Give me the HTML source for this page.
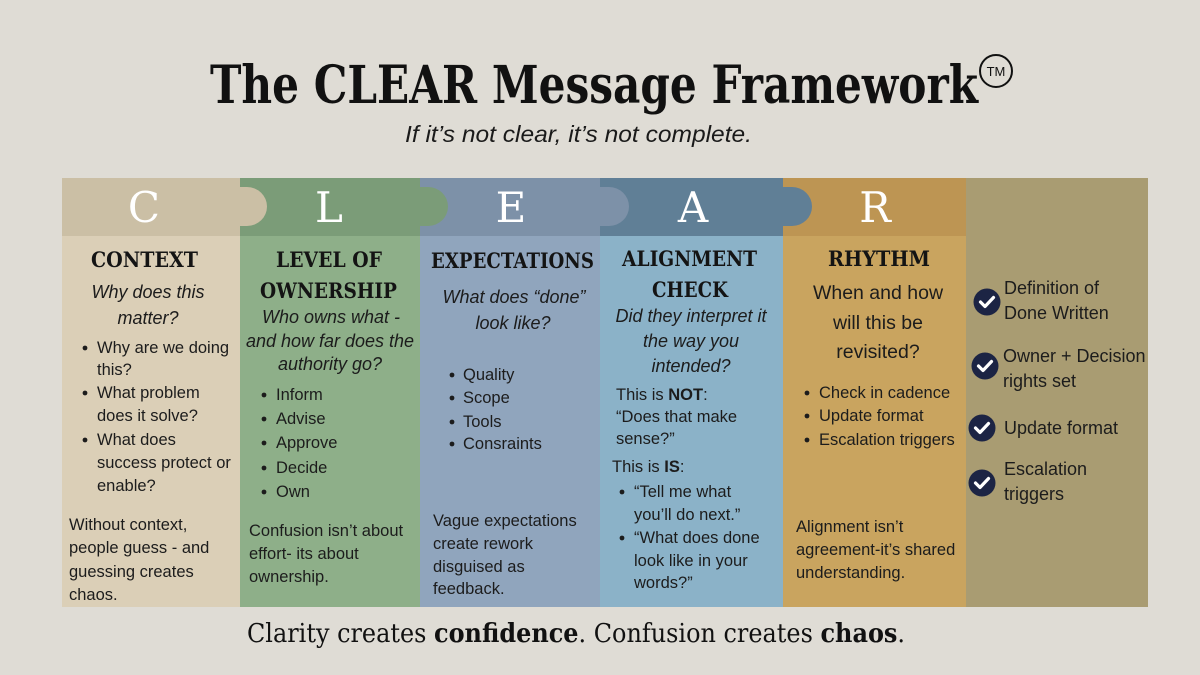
<!DOCTYPE html>
<html>
<head>
<meta charset="utf-8">
<style>
  html, body { margin:0; padding:0; background:#dfdcd5; }
  svg { display:block; }
  .b { font-family:"Liberation Sans", Arial, sans-serif; font-size:16.5px; fill:#1c1c1c; }
  .it { font-family:"Liberation Sans", Arial, sans-serif; font-style:italic; font-size:18px; fill:#1c1c1c; }
  .h { font-family:"DejaVu Serif", "Liberation Serif", serif; font-weight:bold; font-size:21px; fill:#141414; }
  .L { font-family:"DejaVu Serif", "Liberation Serif", serif; font-size:42px; fill:#ffffff; }
  .r { font-family:"Liberation Sans", Arial, sans-serif; font-size:18px; fill:#1c1c1c; }
  .rq { font-family:"Liberation Sans", Arial, sans-serif; font-size:19.5px; fill:#1c1c1c; }
</style>
</head>
<body>
<svg width="1200" height="675" viewBox="0 0 1200 675" xmlns="http://www.w3.org/2000/svg">
  <rect x="0" y="0" width="1200" height="675" fill="#dfdcd5"/>

  <!-- Title -->
  <text x="210" y="103" font-family="DejaVu Serif, Liberation Serif, serif" font-weight="bold" font-size="52" fill="#111" textLength="768" lengthAdjust="spacingAndGlyphs">The CLEAR Message Framework</text>
  <circle cx="996" cy="71" r="16" fill="none" stroke="#111" stroke-width="2"/>
  <text x="996" y="76" text-anchor="middle" font-family="Liberation Sans, sans-serif" font-size="13" fill="#111">TM</text>
  <text x="405" y="142" font-family="Liberation Sans, sans-serif" font-style="italic" font-size="23" fill="#1a1a1a" textLength="347" lengthAdjust="spacingAndGlyphs">If it’s not clear, it’s not complete.</text>

  <!-- Column bodies -->
  <rect x="62" y="178" width="178" height="429" fill="#dbcfb7"/>
  <rect x="240" y="178" width="180" height="429" fill="#8eaf89"/>
  <rect x="420" y="178" width="180" height="429" fill="#90a5bd"/>
  <rect x="600" y="178" width="183" height="429" fill="#8bb2c8"/>
  <rect x="783" y="178" width="183" height="429" fill="#c9a45f"/>
  <rect x="966" y="178" width="182" height="429" fill="#a99c72"/>

  <!-- Header bands -->
  <rect x="62" y="178" width="178" height="58" fill="#cbbfa5"/>
  <rect x="240" y="178" width="180" height="58" fill="#7b9c78"/>
  <rect x="420" y="178" width="180" height="58" fill="#7d91a8"/>
  <rect x="600" y="178" width="183" height="58" fill="#607f96"/>
  <rect x="783" y="178" width="183" height="58" fill="#bd9553"/>

  <!-- Bumps -->
  <path d="M240,187 H247 A20,19.5 0 0 1 247,226 H240 Z" fill="#cbbfa5"/>
  <path d="M420,187 H428 A20,19.5 0 0 1 428,226 H420 Z" fill="#7b9c78"/>
  <path d="M600,187 H609 A20,19.5 0 0 1 609,226 H600 Z" fill="#7d91a8"/>
  <path d="M783,187 H792 A20,19.5 0 0 1 792,226 H783 Z" fill="#607f96"/>

  <!-- Letters -->
  <text class="L" x="144" y="222" text-anchor="middle">C</text>
  <text class="L" x="329" y="222" text-anchor="middle">L</text>
  <text class="L" x="511" y="222" text-anchor="middle">E</text>
  <text class="L" x="693" y="222" text-anchor="middle">A</text>
  <text class="L" x="875" y="222" text-anchor="middle">R</text>

  <!-- Headings -->
  <text class="h" x="91" y="267" textLength="107" lengthAdjust="spacingAndGlyphs">CONTEXT</text>
  <text class="h" x="276" y="267" textLength="106" lengthAdjust="spacingAndGlyphs">LEVEL OF</text>
  <text class="h" x="260" y="298" textLength="137" lengthAdjust="spacingAndGlyphs">OWNERSHIP</text>
  <text class="h" x="431" y="268" textLength="163" lengthAdjust="spacingAndGlyphs">EXPECTATIONS</text>
  <text class="h" x="622" y="266" textLength="135" lengthAdjust="spacingAndGlyphs">ALIGNMENT</text>
  <text class="h" x="652" y="297" textLength="76" lengthAdjust="spacingAndGlyphs">CHECK</text>
  <text class="h" x="828" y="266" textLength="102" lengthAdjust="spacingAndGlyphs">RHYTHM</text>

  <!-- C column -->
  <text class="it" x="148" y="298" text-anchor="middle">Why does this</text>
  <text class="it" x="148" y="324" text-anchor="middle">matter?</text>
  <g fill="#1c1c1c">
    <circle cx="85" cy="348" r="2.4"/>
    <circle cx="85" cy="393" r="2.4"/>
    <circle cx="85" cy="440" r="2.4"/>
  </g>
  <text class="b" x="97" y="353">Why are we doing</text>
  <text class="b" x="97" y="375">this?</text>
  <text class="b" x="97" y="398">What problem</text>
  <text class="b" x="97" y="421">does it solve?</text>
  <text class="b" x="97" y="445">What does</text>
  <text class="b" x="97" y="468">success protect or</text>
  <text class="b" x="97" y="491">enable?</text>
  <text class="b" x="69" y="530">Without context,</text>
  <text class="b" x="69" y="553">people guess - and</text>
  <text class="b" x="69" y="577">guessing creates</text>
  <text class="b" x="69" y="600">chaos.</text>

  <!-- L column -->
  <text class="it" x="331" y="323" text-anchor="middle">Who owns what -</text>
  <text class="it" x="330" y="347" text-anchor="middle">and how far does the</text>
  <text class="it" x="330" y="370" text-anchor="middle">authority go?</text>
  <g fill="#1c1c1c">
    <circle cx="264" cy="395" r="2.4"/>
    <circle cx="264" cy="419" r="2.4"/>
    <circle cx="264" cy="443" r="2.4"/>
    <circle cx="264" cy="468" r="2.4"/>
    <circle cx="264" cy="492" r="2.4"/>
  </g>
  <text class="b" x="276" y="400">Inform</text>
  <text class="b" x="276" y="424">Advise</text>
  <text class="b" x="276" y="448">Approve</text>
  <text class="b" x="276" y="473">Decide</text>
  <text class="b" x="276" y="497">Own</text>
  <text class="b" x="249" y="536">Confusion isn’t about</text>
  <text class="b" x="249" y="559">effort- its about</text>
  <text class="b" x="249" y="582">ownership.</text>

  <!-- E column -->
  <text class="it" x="514" y="303" text-anchor="middle">What does “done”</text>
  <text class="it" x="513" y="329" text-anchor="middle">look like?</text>
  <g fill="#1c1c1c">
    <circle cx="452" cy="375" r="2.4"/>
    <circle cx="452" cy="398" r="2.4"/>
    <circle cx="452" cy="422" r="2.4"/>
    <circle cx="452" cy="444" r="2.4"/>
  </g>
  <text class="b" x="463" y="380">Quality</text>
  <text class="b" x="463" y="403">Scope</text>
  <text class="b" x="463" y="427">Tools</text>
  <text class="b" x="463" y="449">Consraints</text>
  <text class="b" x="433" y="526">Vague expectations</text>
  <text class="b" x="433" y="549">create rework</text>
  <text class="b" x="433" y="572">disguised as</text>
  <text class="b" x="433" y="594">feedback.</text>

  <!-- A column -->
  <text class="it" x="691" y="322" text-anchor="middle">Did they interpret it</text>
  <text class="it" x="691" y="347" text-anchor="middle">the way you</text>
  <text class="it" x="691" y="372" text-anchor="middle">intended?</text>
  <text class="b" x="616" y="400">This is <tspan font-weight="bold">NOT</tspan>:</text>
  <text class="b" x="616" y="422">“Does that make</text>
  <text class="b" x="616" y="444">sense?”</text>
  <text class="b" x="612" y="472">This is <tspan font-weight="bold">IS</tspan>:</text>
  <g fill="#1c1c1c">
    <circle cx="622" cy="492" r="2.4"/>
    <circle cx="622" cy="538" r="2.4"/>
  </g>
  <text class="b" x="634" y="497">“Tell me what</text>
  <text class="b" x="634" y="520">you’ll do next.”</text>
  <text class="b" x="634" y="543">“What does done</text>
  <text class="b" x="634" y="566">look like in your</text>
  <text class="b" x="634" y="588">words?”</text>

  <!-- R column -->
  <text class="rq" x="878" y="299" text-anchor="middle" style="font-size:19.5px">When and how</text>
  <text class="rq" x="878" y="329" text-anchor="middle" style="font-size:19.5px">will this be</text>
  <text class="rq" x="878" y="358" text-anchor="middle" style="font-size:19.5px">revisited?</text>
  <g fill="#1c1c1c">
    <circle cx="807" cy="393" r="2.4"/>
    <circle cx="807" cy="416" r="2.4"/>
    <circle cx="807" cy="440" r="2.4"/>
  </g>
  <text class="b" x="819" y="398">Check in cadence</text>
  <text class="b" x="819" y="421">Update format</text>
  <text class="b" x="819" y="445">Escalation triggers</text>
  <text class="b" x="796" y="532">Alignment isn’t</text>
  <text class="b" x="796" y="555">agreement-it’s shared</text>
  <text class="b" x="796" y="578">understanding.</text>

  <!-- Checklist column -->
  <g>
    <circle cx="987" cy="302" r="13.5" fill="#1c2444"/>
    <polyline points="980.5,302 985,306.5 993.5,297.5" fill="none" stroke="#fff" stroke-width="3.2" stroke-linecap="round" stroke-linejoin="round"/>
    <circle cx="985" cy="366" r="13.5" fill="#1c2444"/>
    <polyline points="978.5,366 983,370.5 991.5,361.5" fill="none" stroke="#fff" stroke-width="3.2" stroke-linecap="round" stroke-linejoin="round"/>
    <circle cx="982" cy="428" r="13.5" fill="#1c2444"/>
    <polyline points="975.5,428 980,432.5 988.5,423.5" fill="none" stroke="#fff" stroke-width="3.2" stroke-linecap="round" stroke-linejoin="round"/>
    <circle cx="982" cy="483" r="13.5" fill="#1c2444"/>
    <polyline points="975.5,483 980,487.5 988.5,478.5" fill="none" stroke="#fff" stroke-width="3.2" stroke-linecap="round" stroke-linejoin="round"/>
  </g>
  <text class="r" x="1004" y="294">Definition of</text>
  <text class="r" x="1004" y="319">Done Written</text>
  <text class="r" x="1003" y="362">Owner + Decision</text>
  <text class="r" x="1003" y="387">rights set</text>
  <text class="r" x="1004" y="434">Update format</text>
  <text class="r" x="1004" y="475">Escalation</text>
  <text class="r" x="1004" y="500">triggers</text>

  <!-- Footer -->
  <text x="247" y="642" font-family="DejaVu Serif, Liberation Serif, serif" font-size="26" fill="#111" textLength="658" lengthAdjust="spacingAndGlyphs">Clarity creates <tspan font-weight="bold">confidence</tspan>. Confusion creates <tspan font-weight="bold">chaos</tspan>.</text>
</svg>
</body>
</html>
